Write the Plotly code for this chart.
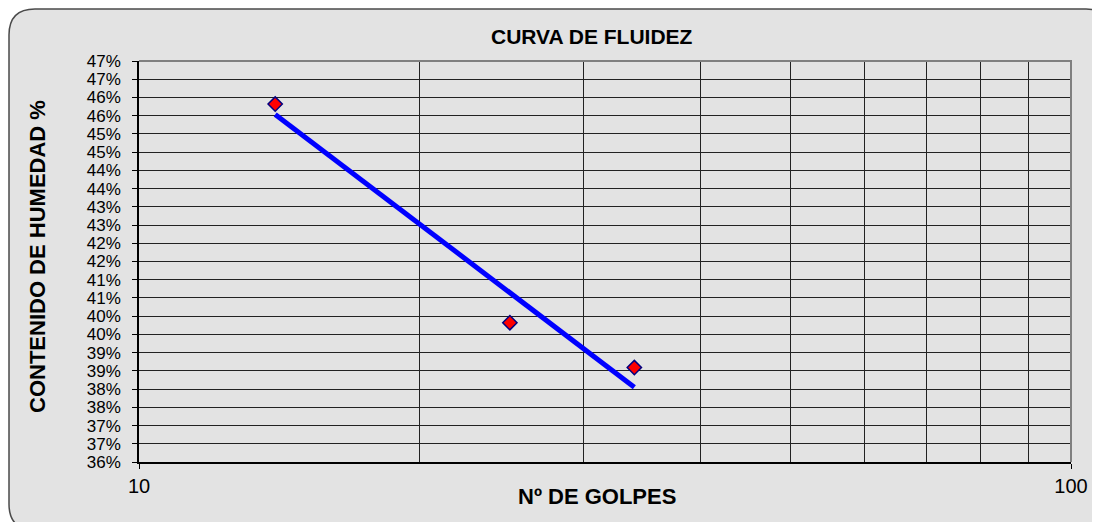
import numpy as np
import plotly.graph_objects as go

# ---- data ----
golpes = [14, 25, 34]
humedad = [45.82, 39.82, 38.59]          # %
y_tick_vals = [36 + 0.5 * i for i in range(23)]
y_tick_text = ["36%", "37%", "37%", "38%", "38%", "39%", "39%", "40%", "40%", "41%",
               "41%", "42%", "42%", "43%", "43%", "44%", "44%", "45%", "45%", "46%",
               "46%", "47%", "47%"]
x_tick_vals = [10, 100]
x_tick_text = ["10", "100"]
x_minor_vals = [20, 30, 40, 50, 60, 70, 80, 90]

# logarithmic trend line fitted to the points
lx = np.log(golpes)
slope, intercept = np.polyfit(lx, humedad, 1)
trend_x = [min(golpes), max(golpes)]
trend_y = [slope * np.log(v) + intercept for v in trend_x]

OFF = 8  # page body margin
W, H = 1100 - OFF, 522 - OFF
L, R, T, B = 139 - OFF, 1071 - OFF, 61 - OFF, 462 - OFF

fig = go.Figure()
fig.add_trace(go.Scatter(x=trend_x, y=trend_y, mode="lines",
                         line=dict(color="#0000FF", width=5), showlegend=False))
fig.add_trace(go.Scatter(x=golpes, y=humedad, mode="markers",
                         marker=dict(symbol="diamond", size=11, color="#FF0000",
                                     line=dict(color="#000080", width=1.5)),
                         showlegend=False))

# pixel (page) -> paper coords
def px(x):
    return (x - OFF - L) / (R - L)
def py(y):
    return (B - (y - OFF)) / (B - T)

x0, y0, x1, y1, r = 9, 9, 1112, 530, 26
path = (f"M {px(x0 + r)} {py(y0)} L {px(x1 - r)} {py(y0)} "
        f"Q {px(x1)} {py(y0)} {px(x1)} {py(y0 + r)} "
        f"L {px(x1)} {py(y1 - r)} Q {px(x1)} {py(y1)} {px(x1 - r)} {py(y1)} "
        f"L {px(x0 + r)} {py(y1)} Q {px(x0)} {py(y1)} {px(x0)} {py(y1 - r)} "
        f"L {px(x0)} {py(y0 + r)} Q {px(x0)} {py(y0)} {px(x0 + r)} {py(y0)} Z")
fig.add_shape(type="path", path=path, xref="paper", yref="paper",
              fillcolor="#e3e3e3", line=dict(color="#4a4a4a", width=1.5), layer="below")

# plot border top/right grey
fig.add_shape(type="path", xref="paper", yref="paper",
              path="M 0 1 L 1 1 L 1 0", line=dict(color="#808080", width=2), layer="above")

fig.update_layout(
    width=W, height=H,
    margin=dict(l=L, r=W - R, t=T, b=H - B),
    paper_bgcolor="white",
    plot_bgcolor="rgba(0,0,0,0)",
    font=dict(family="Arial, Liberation Sans, sans-serif", color="black", size=14),
    xaxis=dict(type="log", range=[1, 2], tickvals=x_tick_vals, ticktext=x_tick_text,
               showgrid=True, gridcolor="#222222", gridwidth=1,
               minor=dict(tickvals=x_minor_vals, showgrid=True, gridcolor="#222222",
                          gridwidth=1, ticks=""),
               ticks="outside", ticklen=5, tickcolor="black",
               showline=True, linecolor="black", linewidth=1.5,
               zeroline=False, tickfont=dict(size=20), ticklabelstandoff=0),
    yaxis=dict(range=[36, 47], tickvals=y_tick_vals, ticktext=y_tick_text,
               showgrid=True, gridcolor="#222222", gridwidth=1,
               ticks="outside", ticklen=5, tickcolor="black",
               showline=True, linecolor="black", linewidth=1.5,
               zeroline=False, tickfont=dict(size=17), ticklabelstandoff=8),
    annotations=[
        dict(text="<b>CURVA DE FLUIDEZ</b>", xref="paper", yref="paper",
             x=px(592), y=py(36), xanchor="center", yanchor="middle",
             showarrow=False, font=dict(size=21)),
        dict(text="<b>Nº DE GOLPES</b>", xref="paper", yref="paper",
             x=px(597), y=py(496), xanchor="center", yanchor="middle",
             showarrow=False, font=dict(size=22)),
        dict(text="<b>CONTENIDO DE HUMEDAD %</b>", xref="paper", yref="paper",
             x=px(37), y=py(257), xanchor="center", yanchor="middle", textangle=-90,
             showarrow=False, font=dict(size=22)),
    ],
)

fig.write_html("out.html")
